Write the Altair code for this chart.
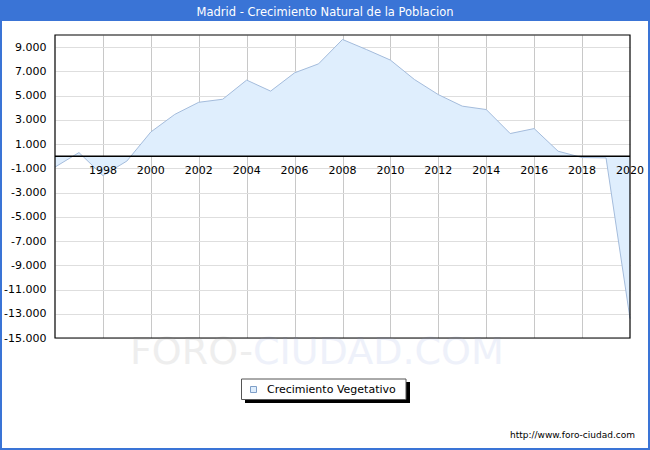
import altair as alt
import pandas as pd

# ---- data ----
years = list(range(1996, 2021))
values = [-900, 300, -1600, -400, 2000, 3450, 4450, 4700, 6280, 5370,
          6880, 7620, 9630, 8800, 7930, 6330, 5080, 4130, 3850, 1870,
          2280, 410, -110, -140, -13400]
label_years = list(range(1998, 2021, 2))
grid_years = list(range(1998, 2020, 2))
y_ticks = list(range(-15000, 10000, 2000))

title_text = "Madrid - Crecimiento Natural de la Poblacion"
legend_text = "Crecimiento Vegetativo"
footer_text = "http://www.foro-ciudad.com"

W, H = 575, 303
FONT = "DejaVu Sans"
FILL = "#dfeefd"
LINE = "#a4bcdc"
BLUE = "#3a74d6"

df = pd.DataFrame({"year": years, "value": values})

xscale = alt.Scale(domain=[1996, 2020], nice=False, zero=False)
yscale = alt.Scale(domain=[-15000, 10000], nice=False, zero=False)

xaxis = alt.Axis(values=grid_years, grid=True, labels=False, ticks=False,
                 domain=False, title=None, gridColor="#c8c8c8", gridWidth=1,
                 tickCount=len(grid_years))
yaxis = alt.Axis(values=y_ticks, grid=True, gridColor="#dedede",
                 ticks=False, domain=False, title=None,
                 tickCount=len(y_ticks),
                 labelOverlap=False, labelBound=False, labelFlush=False,
                 labelExpr="(datum.value < 0 ? '-' : '') + format(abs(datum.value)/1000, 'd') + '.000'",
                 labelFont=FONT, labelFontSize=11, labelColor="black",
                 labelPadding=9)

def X(field):
    return alt.X(field, type="quantitative", scale=xscale, axis=xaxis)

def Y(field):
    return alt.Y(field, type="quantitative", scale=yscale, axis=yaxis)

one = alt.Data(values=[{"k": 0}])

area = alt.Chart(df).mark_area(
    color=FILL, opacity=1,
    line={"color": LINE, "strokeWidth": 1},
).encode(x=X("year"), y=Y("value"), y2=alt.datum(0))

zero = alt.Chart(pd.DataFrame({"value": [0]})).mark_rule(
    color="black", strokeWidth=1.5
).encode(y=Y("value"))

year_labels = alt.Chart(pd.DataFrame({"year": label_years})).mark_text(
    font=FONT, fontSize=11, color="black", baseline="middle", align="center"
).encode(
    x=X("year"),
    y=alt.value(136),
    text=alt.Text("year:Q", format="d"),
)

frame = alt.Chart(one).mark_rect(fill=None, stroke="black", strokeWidth=1.2).encode(
    x=alt.value(0), x2=alt.value(W), y=alt.value(0), y2=alt.value(H)
)

# title bar
title_bar = alt.Chart(one).mark_rect(color=BLUE).encode(
    x=alt.value(-55), x2=alt.value(595), y=alt.value(-35), y2=alt.value(-14)
)
title = alt.Chart(one).mark_text(
    text=title_text, font=FONT, fontSize=11.5, color="white",
    align="center", baseline="middle"
).encode(x=alt.value(270), y=alt.value(-22))

border = alt.Chart(one).mark_rect(
    fill=None, stroke=BLUE, strokeWidth=2
).encode(x=alt.value(-54), x2=alt.value(594), y=alt.value(-34), y2=alt.value(414))

# watermark
wm1 = alt.Chart(one).mark_text(
    text="FORO-", font=FONT, fontSize=38, color="#eeeeee", align="left", baseline="middle"
).encode(x=alt.value(75), y=alt.value(318))
wm2 = alt.Chart(one).mark_text(
    text="CIUDAD.COM", font=FONT, fontSize=38, color="#eef1fa", align="left", baseline="middle"
).encode(x=alt.value(198), y=alt.value(318))

# legend
leg_shadow = alt.Chart(one).mark_rect(color="black").encode(
    x=alt.value(190), x2=alt.value(355), y=alt.value(347), y2=alt.value(368)
)
leg_box = alt.Chart(one).mark_rect(fill="white", stroke="#555555", strokeWidth=1).encode(
    x=alt.value(186.5), x2=alt.value(351), y=alt.value(344), y2=alt.value(364.5)
)
leg_sym = alt.Chart(one).mark_rect(fill=FILL, stroke="#7f9fc8", strokeWidth=1).encode(
    x=alt.value(195.5), x2=alt.value(201.5), y=alt.value(351.5), y2=alt.value(357.5)
)
leg_text = alt.Chart(one).mark_text(
    text=legend_text, font=FONT, fontSize=11, color="black", align="left", baseline="middle"
).encode(x=alt.value(212), y=alt.value(354.5))

footer = alt.Chart(one).mark_text(
    text=footer_text, font=FONT, fontSize=9, color="black", align="right", baseline="middle"
).encode(x=alt.value(580), y=alt.value(400))

chart = alt.layer(
    wm1, wm2, area, zero, year_labels, frame, title_bar, title, border,
    leg_shadow, leg_box, leg_sym, leg_text, footer
).properties(
    width=W, height=H,
    autosize=alt.AutoSizeParams(type="none"),
    padding={"left": 55, "top": 35, "right": 20, "bottom": 112},
    background="white",
).configure_view(stroke=None)

chart.save("out.html", embed_options={"renderer": "svg", "actions": False})
